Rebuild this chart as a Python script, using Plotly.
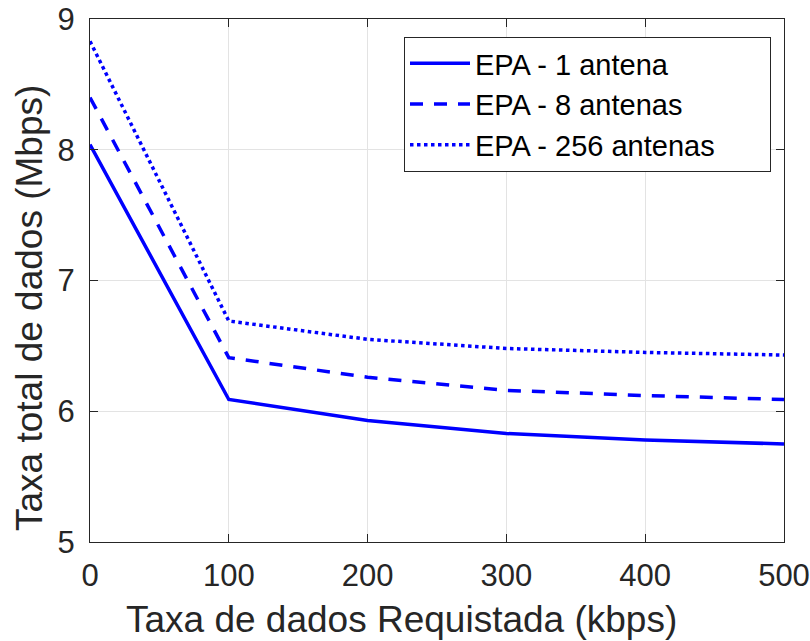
import plotly.graph_objects as go

x_vals = [0, 100, 200, 300, 400, 500]
epa_1 = [8.04, 6.09, 5.93, 5.83, 5.78, 5.75]
epa_8 = [8.40, 6.41, 6.26, 6.16, 6.12, 6.09]
epa_256 = [8.83, 6.69, 6.55, 6.48, 6.45, 6.43]
names = ["EPA - 1 antena", "EPA - 8 antenas", "EPA - 256 antenas"]
x_ticks = [0, 100, 200, 300, 400, 500]
y_ticks = [5, 6, 7, 8, 9]
x_title = "Taxa de dados Requistada (kbps)"
y_title = "Taxa total de dados (Mbps)"

FONT = "Liberation Sans, Arial, Helvetica, sans-serif"
W, H = 810, 641
L, R, T, B = 90, 26, 19, 99
PW, PH = W - L - R, H - T - B

fig = go.Figure()
for ys, name, dash in [(epa_1, names[0], "solid"), (epa_8, names[1], "13px,11px"), (epa_256, names[2], "dot")]:
    fig.add_trace(go.Scatter(x=x_vals, y=ys, mode="lines", name=name,
                             line=dict(color="#0000ff", width=3.5, dash=dash)))

axis_common = dict(showgrid=True, gridcolor="#e3e3e3", gridwidth=1, zeroline=False,
                   showline=True, linecolor="#262626", linewidth=1.3, mirror="ticks",
                   ticks="inside", ticklen=8, tickcolor="#262626", automargin=False,
                   tickfont=dict(size=31, color="#262626", family=FONT))

fig.update_xaxes(range=[0, 500], tickvals=x_ticks, ticklabelstandoff=6, **axis_common)
fig.update_yaxes(range=[5, 9], tickvals=y_ticks, ticklabelstandoff=8, **axis_common)

# axis titles as annotations (positioned like the reference)
fig.add_annotation(text=x_title, xref="paper", yref="paper",
                   x=(401 - L) / PW, y=-(619 - (T + PH)) / PH, xanchor="center", yanchor="middle",
                   showarrow=False, font=dict(size=37, color="#262626", family=FONT))
fig.add_annotation(text=y_title, xref="paper", yref="paper", textangle=-90,
                   x=-(L - 29) / PW, y=((T + PH) - 308) / PH, xanchor="center", yanchor="middle",
                   showarrow=False, font=dict(size=37, color="#262626", family=FONT))

fig.update_layout(
    width=W, height=H,
    margin=dict(l=L, r=R, t=T, b=B),
    paper_bgcolor="white", plot_bgcolor="white",
    font=dict(family=FONT, color="#262626"),
    legend=dict(orientation="h", x=(404 - L) / PW, y=((T + PH) - 37) / PH, xanchor="left", yanchor="top",
                bgcolor="white", bordercolor="#262626", borderwidth=1,
                font=dict(size=29, color="black", family=FONT), tracegroupgap=0, itemwidth=60,
                entrywidth=290, entrywidthmode="pixels"),
    showlegend=True,
)

fig.write_html("out.html")
